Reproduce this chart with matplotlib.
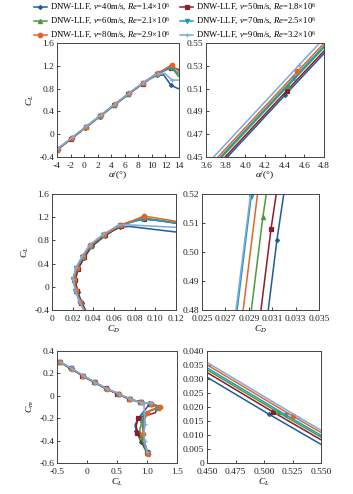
import matplotlib
matplotlib.use("Agg")
import matplotlib.pyplot as plt
from matplotlib.ticker import FixedLocator, FixedFormatter

plt.rcParams['font.family'] = ['Liberation Serif', 'DejaVu Serif']
plt.rcParams['mathtext.fontset'] = 'custom'
plt.rcParams['mathtext.rm'] = 'Liberation Serif'
plt.rcParams['mathtext.it'] = 'Liberation Serif:italic'
plt.rcParams['axes.unicode_minus'] = False

# ---------------- data ----------------
labels = [r"DNW-LLF, $v$=40m/s, $Re$=1.4×10$^{6}$",
          r"DNW-LLF, $v$=50m/s, $Re$=1.8×10$^{6}$",
          r"DNW-LLF, $v$=60m/s, $Re$=2.1×10$^{6}$",
          r"DNW-LLF, $v$=70m/s, $Re$=2.5×10$^{6}$",
          r"DNW-LLF, $v$=80m/s, $Re$=2.9×10$^{6}$",
          r"DNW-LLF, $v$=90m/s, $Re$=3.2×10$^{6}$"]

alpha_40 = [-6.1, -4.0, -1.9, 0.2, 2.3, 4.4, 6.5, 8.6, 9.65, 10.7, 11.75, 12.8, 13.85, 14.9, 15.95, 17.0, 18.05, 19.1]
alpha_50 = [-6.08, -3.98, -1.88, 0.22, 2.32, 4.42, 6.52, 8.62, 9.67, 10.72, 11.77, 12.82, 13.87, 14.92, 15.97, 17.02, 18.07, 19.12]
alpha_60 = [-6.07, -3.97, -1.87, 0.23, 2.33, 4.43, 6.53, 8.63, 9.68, 10.73, 11.78, 12.83, 13.88, 14.93, 15.98, 17.03, 18.08, 19.13]
alpha_70 = [-6.01, -3.91, -1.81, 0.29, 2.39, 4.49, 6.59, 8.69, 9.74, 10.79, 11.84, 12.89, 13.94, 14.99, 16.04, 17.09, 18.14, 19.19]
alpha_80 = [-5.97, -3.87, -1.77, 0.33, 2.43, 4.53, 6.63, 8.73, 9.78, 10.83, 11.88, 12.93, 13.98, 15.03, 16.08, 17.13, 18.18, 19.23]
alpha_90 = [-5.95, -3.85, -1.75, 0.35, 2.45, 4.55, 6.65, 8.75, 9.8, 10.85, 11.9, 12.95, 14.0, 15.05, 16.1, 17.15, 18.2, 19.25]

CL_40 = [-0.472, -0.277, -0.082, 0.114, 0.309, 0.504, 0.697, 0.882, 0.965, 1.03, 1.04, 0.86, 0.80, 0.82, 0.86, 0.90, 0.95, 1.00]
CL_50 = [-0.468, -0.273, -0.078, 0.118, 0.313, 0.508, 0.701, 0.886, 0.970, 1.055, 1.12, 1.17, 1.14, 0.85, 0.82, 0.84, 0.92, 1.00]
CL_60 = [-0.464, -0.269, -0.074, 0.122, 0.317, 0.512, 0.705, 0.890, 0.975, 1.06, 1.13, 1.19, 1.02, 0.92, 0.88, 0.90, 0.95, 1.00]
CL_70 = [-0.457, -0.262, -0.067, 0.129, 0.324, 0.519, 0.712, 0.897, 0.980, 1.06, 1.11, 1.17, 1.06, 0.95, 0.92, 0.94, 0.97, 1.01]
CL_80 = [-0.451, -0.256, -0.061, 0.135, 0.330, 0.525, 0.718, 0.903, 0.988, 1.07, 1.14, 1.22, 1.10, 1.00, 0.95, 0.93, 0.97, 1.02]
CL_90 = [-0.445, -0.250, -0.055, 0.141, 0.336, 0.531, 0.724, 0.905, 0.985, 1.06, 1.07, 0.95, 0.95, 0.97, 0.95, 0.96, 0.98, 1.00]

CD_40 = [0.0345, 0.0290, 0.0248, 0.0226, 0.0254, 0.0314, 0.0385, 0.0515, 0.0590, 0.0660, 0.075, 0.16, 0.20, 0.24, 0.28, 0.32, 0.36, 0.40]
CD_50 = [0.0340, 0.0285, 0.0243, 0.0221, 0.0249, 0.0309, 0.0381, 0.0512, 0.0590, 0.0665, 0.077, 0.089, 0.105, 0.20, 0.24, 0.28, 0.32, 0.36]
CD_60 = [0.0332, 0.0277, 0.0236, 0.0214, 0.0242, 0.0302, 0.0373, 0.0505, 0.0585, 0.066, 0.077, 0.088, 0.15, 0.20, 0.24, 0.28, 0.32, 0.36]
CD_70 = [0.0322, 0.0267, 0.0226, 0.0204, 0.0232, 0.0292, 0.0364, 0.0498, 0.058, 0.0655, 0.076, 0.088, 0.14, 0.19, 0.23, 0.27, 0.31, 0.35]
CD_80 = [0.0327, 0.0272, 0.0231, 0.0209, 0.0239, 0.0299, 0.0371, 0.0505, 0.059, 0.067, 0.078, 0.089, 0.13, 0.18, 0.22, 0.26, 0.30, 0.34]
CD_90 = [0.0322, 0.0266, 0.0225, 0.0203, 0.0234, 0.0295, 0.0367, 0.0495, 0.057, 0.064, 0.072, 0.20, 0.24, 0.28, 0.32, 0.36, 0.40, 0.44]

Cm_40 = [0.305, 0.245, 0.180, 0.120, 0.065, 0.0175, -0.028, -0.058, -0.064, -0.068, -0.075, -0.20, -0.26, -0.31, -0.36, -0.41, -0.46, -0.51]
Cm_50 = [0.305, 0.246, 0.181, 0.121, 0.0657, 0.0182, -0.0273, -0.058, -0.064, -0.07, -0.08, -0.10, -0.15, -0.20, -0.27, -0.33, -0.42, -0.50]
Cm_60 = [0.305, 0.246, 0.181, 0.121, 0.0657, 0.0182, -0.0273, -0.058, -0.064, -0.07, -0.08, -0.11, -0.14, -0.22, -0.30, -0.37, -0.44, -0.51]
Cm_70 = [0.304, 0.244, 0.180, 0.120, 0.0647, 0.0172, -0.0283, -0.059, -0.065, -0.07, -0.08, -0.11, -0.13, -0.18, -0.27, -0.35, -0.43, -0.51]
Cm_80 = [0.303, 0.243, 0.179, 0.119, 0.0643, 0.0168, -0.0287, -0.059, -0.065, -0.071, -0.08, -0.10, -0.12, -0.15, -0.24, -0.34, -0.44, -0.52]
Cm_90 = [0.302, 0.242, 0.178, 0.118, 0.0637, 0.0162, -0.0293, -0.060, -0.065, -0.068, -0.07, -0.06, -0.09, -0.25, -0.33, -0.40, -0.46, -0.50]

alphas = [alpha_40, alpha_50, alpha_60, alpha_70, alpha_80, alpha_90]
CLs = [CL_40, CL_50, CL_60, CL_70, CL_80, CL_90]
CDs = [CD_40, CD_50, CD_60, CD_70, CD_80, CD_90]
Cms = [Cm_40, Cm_50, Cm_60, Cm_70, Cm_80, Cm_90]

colors = ['#1f5b9a', '#8c1c2c', '#4e9a3a', '#1d9bbf', '#e0652a', '#80a8d8']
markers = ['D', 's', '^', 'v', 'o', '+']
msizes = [2.0, 3.0, 3.0, 3.0, 3.2, 3.2]
mark_idx = [0, 1, 2, 3, 4, 5, 6, 7, 9, 11, 13, 15, 17]

W, H = 353, 494
fig = plt.figure(figsize=(W / 100, H / 100), dpi=100)


def add_ax(l, r, t, b):
    return fig.add_axes([l / W, 1 - b / H, (r - l) / W, (b - t) / H])


axes_px = [(57, 179, 43, 157), (206, 324, 43, 157),
           (52, 176, 194, 310), (202, 319, 194, 310),
           (57, 177, 351, 463), (207, 321, 351, 463)]
axs = [add_ax(*p) for p in axes_px]

FS = 6.8
handles = []
for i in range(6):
    kw = dict(color=colors[i], marker=markers[i], ms=msizes[i], lw=1.1,
              markevery=mark_idx, mew=0.9)
    h, = axs[0].plot(alphas[i], CLs[i], **kw)
    axs[1].plot(alphas[i], CLs[i], **kw)
    axs[2].plot(CDs[i], CLs[i], **kw)
    axs[3].plot(CDs[i], CLs[i], **kw)
    axs[4].plot(CLs[i], Cms[i], **kw)
    axs[5].plot(CLs[i], Cms[i], **kw)
    handles.append(h)


def setup(ax, xlim, xt, xl, ylim, yt, yl):
    ax.set_xlim(*xlim)
    ax.set_ylim(*ylim)
    ax.xaxis.set_major_locator(FixedLocator(xt))
    ax.xaxis.set_major_formatter(FixedFormatter(xl))
    ax.yaxis.set_major_locator(FixedLocator(yt))
    ax.yaxis.set_major_formatter(FixedFormatter(yl))
    ax.tick_params(direction='in', length=2.5, width=0.6, labelsize=FS,
                   colors='#222222')
    ax.tick_params(axis='x', pad=3.5)
    ax.tick_params(axis='y', pad=2)
    for s in ax.spines.values():
        s.set_linewidth(0.7)
        s.set_color('#444444')


setup(axs[0], (-4, 14), [-4, -2, 0, 2, 4, 6, 8, 10, 12, 14],
      ['-4', '-2', '0', '2', '4', '6', '8', '10', '12', '14'],
      (-0.4, 1.6), [-0.4, 0, 0.4, 0.8, 1.2, 1.6], ['-0.4', '0', '0.4', '0.8', '1.2', '1.6'])
setup(axs[1], (3.6, 4.8), [3.6, 3.8, 4.0, 4.2, 4.4, 4.6, 4.8],
      ['3.6', '3.8', '4.0', '4.2', '4.4', '4.6', '4.8'],
      (0.45, 0.55), [0.45, 0.47, 0.49, 0.51, 0.53, 0.55],
      ['0.45', '0.47', '0.49', '0.51', '0.53', '0.55'])
setup(axs[2], (0, 0.12), [0, 0.02, 0.04, 0.06, 0.08, 0.10, 0.12],
      ['0', '0.02', '0.04', '0.06', '0.08', '0.10', '0.12'],
      (-0.4, 1.6), [-0.4, 0, 0.4, 0.8, 1.2, 1.6], ['-0.4', '0', '0.4', '0.8', '1.2', '1.6'])
setup(axs[3], (0.025, 0.035), [0.025, 0.027, 0.029, 0.031, 0.033, 0.035],
      ['0.025', '0.027', '0.029', '0.031', '0.033', '0.035'],
      (0.48, 0.52), [0.48, 0.49, 0.50, 0.51, 0.52], ['0.48', '0.49', '0.50', '0.51', '0.52'])
setup(axs[4], (-0.5, 1.5), [-0.5, 0, 0.5, 1.0, 1.5], ['-0.5', '0', '0.5', '1.0', '1.5'],
      (-0.6, 0.4), [-0.6, -0.4, -0.2, 0, 0.2, 0.4], ['-0.6', '-0.4', '-0.2', '0', '0.2', '0.4'])
setup(axs[5], (0.45, 0.55), [0.45, 0.475, 0.5, 0.525, 0.55],
      ['0.450', '0.475', '0.500', '0.525', '0.550'],
      (0, 0.04), [0, 0.005, 0.01, 0.015, 0.02, 0.025, 0.03, 0.035, 0.04],
      ['0', '0.005', '0.010', '0.015', '0.020', '0.025', '0.030', '0.035', '0.040'])

xl_alpha = r"$\alpha$/(°)"
axs[0].set_xlabel(xl_alpha, fontsize=FS, labelpad=0)
axs[1].set_xlabel(xl_alpha, fontsize=FS, labelpad=0)
axs[2].set_xlabel(r"$C_D$", fontsize=FS, labelpad=1)
axs[3].set_xlabel(r"$C_D$", fontsize=FS, labelpad=1)
axs[4].set_xlabel(r"$C_L$", fontsize=FS, labelpad=1)
axs[5].set_xlabel(r"$C_L$", fontsize=FS, labelpad=1)
axs[0].set_ylabel(r"$C_L$", fontsize=FS, labelpad=2)
axs[2].set_ylabel(r"$C_L$", fontsize=FS, labelpad=2)
axs[4].set_ylabel(r"$C_m$", fontsize=FS, labelpad=2)

order = [0, 2, 4, 1, 3, 5]
fig.legend([handles[k] for k in order], [labels[k] for k in order],
           loc='upper left', bbox_to_anchor=(34 / W, 1 - 2 / H), ncol=2,
           frameon=False, fontsize=6.2, handlelength=1.5, handletextpad=0.3,
           columnspacing=1.2, labelspacing=0.3, borderpad=0, borderaxespad=0)

fig.savefig("out.png", dpi=100)
